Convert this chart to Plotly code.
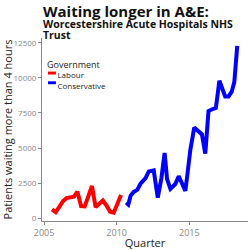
import plotly.graph_objects as go

labour_x = [2005.55 + 0.25 * i for i in range(20)]
labour_y = [620, 420, 800, 1200, 1420, 1460, 1530, 1880, 850, 830, 1500, 2290,
            780, 1000, 1250, 900, 450, 380, 1100, 1650]

cons_x = [2010.66, 2010.8, 2010.96, 2011.18, 2011.42, 2011.64, 2011.99, 2012.21, 2012.55,
          2012.83, 2013.08, 2013.3, 2013.47, 2013.7, 2014.04, 2014.27, 2014.73, 2015.07,
          2015.34, 2015.87, 2016.1, 2016.32, 2016.66, 2016.83, 2017.07, 2017.47, 2017.7,
          2017.92, 2018.1, 2018.3]
cons_y = [1110, 970, 1600, 1870, 2010, 2450, 2850, 3330, 3400, 1460, 2850, 4650,
          2780, 2080, 2430, 2990, 1940, 4860, 6460, 5970, 4600, 7640, 7800, 7850,
          9800, 8680, 8680, 9020, 9720, 12290]

y_ticks = [0, 2500, 5000, 7500, 10000, 12500]
y_labels = ["0", "2500", "5000", "7500", "10000", "12500"]
x_ticks = [2005, 2010, 2015]

series = [("Labour", "#ff0000", labour_x, labour_y),
          ("Conservative", "#0000ff", cons_x, cons_y)]

L, R, T, B = 41, 2, 38, 24
W = H = 250
plot_w = W - L - R
plot_h = H - T - B

def px_x(px):
    return (px - L) / plot_w

def px_y(py):
    return (H - B - py) / plot_h

fig = go.Figure()
for name, color, xs, ys in series:
    fig.add_trace(go.Scatter(x=xs, y=ys, mode="lines", name=name,
                             line=dict(color=color, width=4), showlegend=False))

title_text = ("<span style='font-size:15px'><b>Waiting longer in A&E:</b></span><br>"
              "<span style='font-size:10.5px'><b>Worcestershire Acute Hospitals NHS</b></span><br>"
              "<span style='font-size:10.5px'><b>Trust</b></span>")
legend_text = ("<span style='font-size:9px'>Government</span><br>"
               + "<br>".join("&nbsp;" * 5 + s[0] for s in series))

annotations = [
    dict(text=title_text, x=px_x(41), y=px_y(-1), xanchor="left", yanchor="top",
         align="left", showarrow=False, borderpad=0,
         font=dict(size=8.5, color="#111")),
    dict(text=legend_text, x=px_x(45), y=px_y(58), xanchor="left", yanchor="top",
         align="left", showarrow=False, borderpad=0,
         font=dict(size=8, color="#222")),
]
shapes = []
for i, (name, color, xs, ys) in enumerate(series):
    yc = 74 + 10 * i
    shapes.append(dict(type="rect", xref="paper", yref="paper",
                       x0=px_x(47), x1=px_x(55), y0=px_y(yc - 1.5), y1=px_y(yc + 1.5),
                       fillcolor=color, line=dict(width=0)))
for a in annotations:
    a.update(xref="paper", yref="paper")

fig.update_layout(
    width=W, height=H,
    margin=dict(l=L, r=R, t=T, b=B),
    paper_bgcolor="white", plot_bgcolor="white",
    font=dict(family="Open Sans", color="#222"),
    showlegend=False,
    xaxis=dict(range=[2004.86, 2019.04], tickvals=x_ticks, ticks="outside", ticklen=3,
               tickcolor="#888", showline=True, linecolor="#888", showgrid=False,
               zeroline=False, tickfont=dict(size=9, color="#888"),
               title=dict(text="Quarter", font=dict(size=11, color="#222"), standoff=2)),
    yaxis=dict(range=[-210, 12850], tickvals=y_ticks, ticktext=y_labels, ticks="outside",
               ticklen=3, tickcolor="#888", showline=True, linecolor="#888",
               showgrid=False, zeroline=False, tickfont=dict(size=8, color="#888"),
               title=dict(text="Patients waiting more than 4 hours",
                          font=dict(size=11, color="#222"), standoff=4)),
    annotations=annotations,
    shapes=shapes,
)

fig.write_html("out.html")
